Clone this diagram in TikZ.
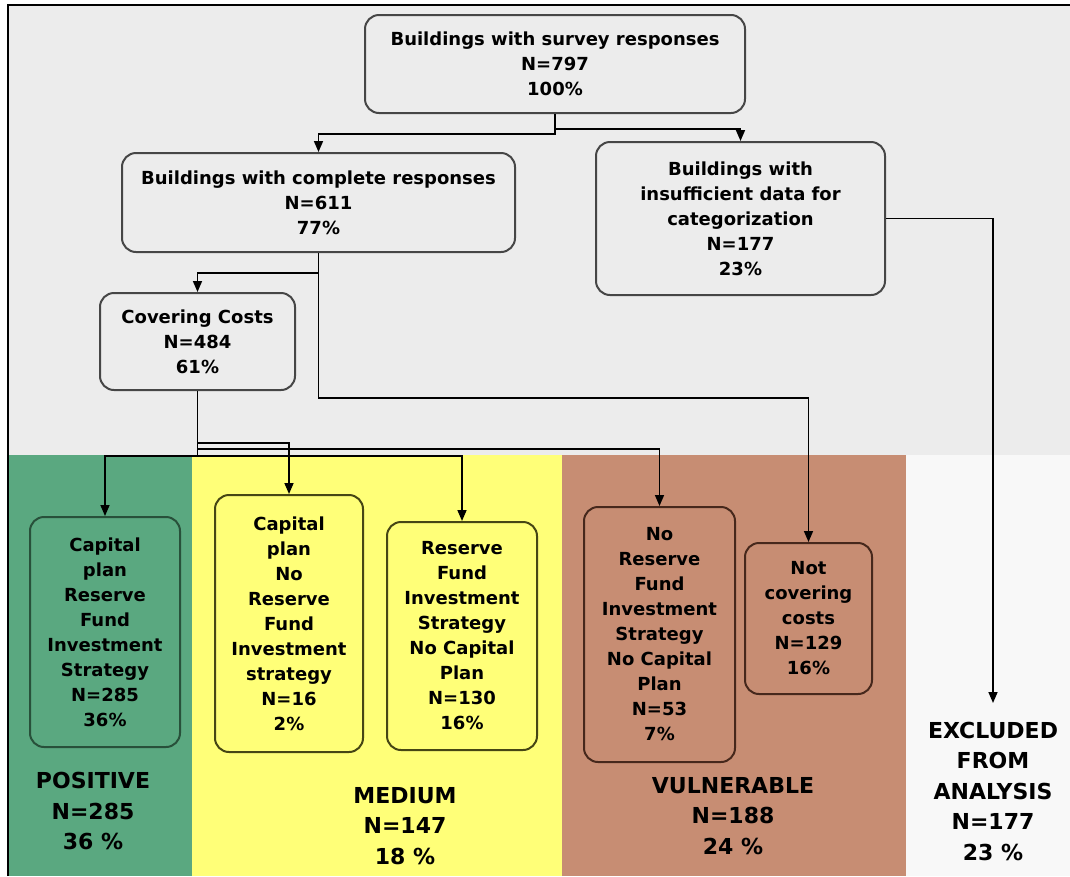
\documentclass[tikz,border=0pt]{standalone}
\usepackage{fontspec}
\setmainfont{DejaVu Sans}
\usetikzlibrary{arrows.meta}
\definecolor{bggray}{RGB}{236,236,236}
\definecolor{bgwhite}{RGB}{248,248,248}
\definecolor{posgreen}{RGB}{90,168,128}
\definecolor{medyellow}{RGB}{255,255,120}
\definecolor{vulbrown}{RGB}{199,141,115}
\definecolor{grayedge}{RGB}{70,70,70}
\definecolor{greenedge}{RGB}{40,80,58}
\definecolor{yellowedge}{RGB}{70,70,20}
\definecolor{brownedge}{RGB}{70,40,28}
\tikzset{
  box/.style={rectangle, rounded corners=14pt, line width=2pt, inner sep=0pt,
    align=center, font=\bfseries\fontsize{18}{25}\selectfont},
  graybox/.style={box, draw=grayedge, fill=bggray},
  greenbox/.style={box, draw=greenedge, fill=posgreen},
  yellowbox/.style={box, draw=yellowedge, fill=medyellow},
  brownbox/.style={box, draw=brownedge, fill=vulbrown},
  grouplabel/.style={align=center, inner sep=0pt, font=\bfseries\fontsize{22}{30.5}\selectfont},
  arr/.style={line width=1.6pt, -{Triangle[width=9pt,length=11pt]}},
  conn/.style={line width=1.6pt}
}
\begin{document}
\begin{tikzpicture}[x=1pt,y=-1pt]
\useasboundingbox (0,0) rectangle (1070,876);
% background bands
\fill[bggray] (8,5) rectangle (1070,455);
\fill[posgreen] (8,455) rectangle (192,876);
\fill[medyellow] (192,455) rectangle (562,876);
\fill[vulbrown] (562,455) rectangle (906,876);
\fill[bgwhite] (906,455) rectangle (1070,876);
\draw[line width=2pt] (8,876) -- (8,5) -- (1070,5);

% boxes
\node[graybox, minimum width=380pt, minimum height=98pt] (top) at (555,64)
  {Buildings with survey responses\\N=797\\100\%};
\node[graybox, minimum width=393pt, minimum height=99pt] (complete) at (318.5,202.5)
  {Buildings with complete responses\\N=611\\77\%};
\node[graybox, minimum width=289pt, minimum height=153pt] (insuff) at (740.5,218.5)
  {Buildings with\\insufficient data for\\categorization\\N=177\\23\%};
\node[graybox, minimum width=195pt, minimum height=97pt] (cover) at (197.5,341.5)
  {Covering Costs\\N=484\\61\%};

\node[greenbox, minimum width=150pt, minimum height=230pt] (g1) at (105,632)
  {Capital\\plan\\Reserve\\Fund\\Investment\\Strategy\\N=285\\36\%};
\node[yellowbox, minimum width=148pt, minimum height=257pt] (y1) at (289,623.5)
  {Capital\\plan\\No\\Reserve\\Fund\\Investment\\strategy\\N=16\\2\%};
\node[yellowbox, minimum width=150pt, minimum height=228pt] (y2) at (462,636)
  {Reserve\\Fund\\Investment\\Strategy\\No Capital\\Plan\\N=130\\16\%};
\node[brownbox, minimum width=151pt, minimum height=255pt] (b1) at (659.5,634.5)
  {No\\Reserve\\Fund\\Investment\\Strategy\\No Capital\\Plan\\N=53\\7\%};
\node[brownbox, minimum width=127pt, minimum height=151pt] (b2) at (808.5,618.5)
  {Not\\covering\\costs\\N=129\\16\%};

% group labels
\node[grouplabel] (pos) at (93,811) {POSITIVE\\N=285\\36 \%};
\node[grouplabel] (med) at (405,826) {MEDIUM\\N=147\\18 \%};
\node[grouplabel] (vul) at (733,816) {VULNERABLE\\N=188\\24 \%};
\node[grouplabel] (excl) at (993,791) {EXCLUDED\\FROM\\ANALYSIS\\N=177\\23 \%};
\coordinate (exclend) at (993,703);

% connectors
\draw[arr] (top.south) -- ++(0,20) -| (complete.north);
\draw[arr] (top.south) -- ++(0,15) -| (insuff.north);
\draw[arr] (complete.south) -- ++(0,20) -| (cover.north);
\draw[arr] (complete.south) -- ++(0,145) -| (b2.north);
\draw[arr] (insuff.east) -| (exclend);
\draw[arr] (cover.south) -- ++(0,52) -| (y1.north);
\draw[arr] (cover.south) -- ++(0,58) -| (b1.north);
\draw[arr] (cover.south) -- ++(0,65) -| (y2.north);
\draw[arr] (cover.south) -- ++(0,65) -| (g1.north);
\end{tikzpicture}
\end{document}
